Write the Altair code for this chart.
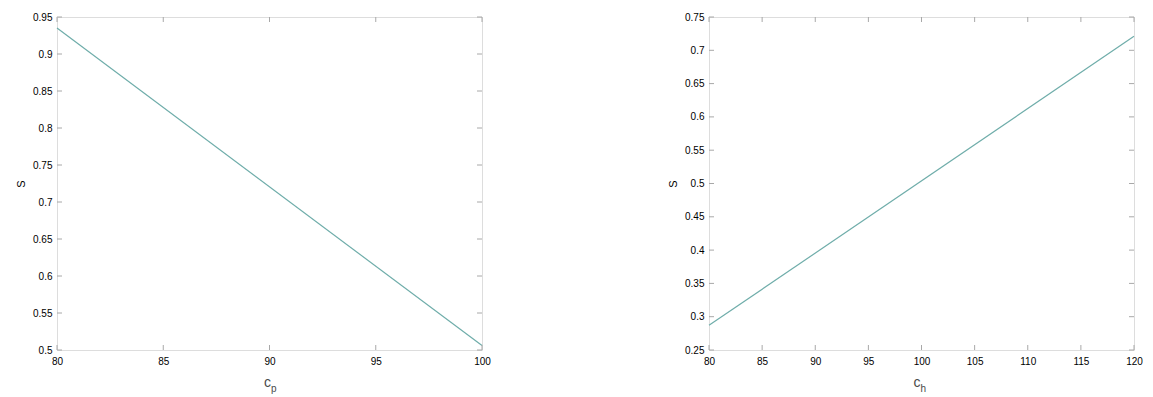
import altair as alt
import pandas as pd

# ---- data ----
cp = [80, 100]
s_cp = [0.935, 0.506]
ch = [80, 120]
s_ch = [0.287, 0.721]

left_xticks = [80, 85, 90, 95, 100]
left_yticks = [0.5, 0.55, 0.6, 0.65, 0.7, 0.75, 0.8, 0.85, 0.9, 0.95]
right_xticks = [80, 85, 90, 95, 100, 105, 110, 115, 120]
right_yticks = [0.25, 0.3, 0.35, 0.4, 0.45, 0.5, 0.55, 0.6, 0.65, 0.7, 0.75]

left_title = ("c", "p")
right_title = ("c", "h")
y_title = "S"

W, H = 425, 333
LINE = "#6fadaa"
AXC = "#a8a8a8"
TXT = "#4a4a4a"
FONT = "Liberation Sans"


def panel(xv, yv, xt, yt, title, c_dx, s_dx):
    df = pd.DataFrame({"x": xv, "y": yv})
    xs = alt.Scale(domain=[xt[0], xt[-1]], nice=False, zero=False)
    ys = alt.Scale(domain=[yt[0], yt[-1]], nice=False, zero=False)
    xax = alt.Axis(values=xt, title=None, ticks=False, tickSize=0,
                   labelPadding=6, domain=False, grid=False,
                   labelFlush=False, format="~r")
    yax = alt.Axis(values=yt, title=y_title, ticks=False, tickSize=0,
                   labelPadding=5, domain=False, grid=False,
                   labelFlush=False, format="~r", titlePadding=6,
                   titleFontWeight="normal")
    line = alt.Chart(df).mark_line(color=LINE, strokeWidth=1.2).encode(
        x=alt.X("x:Q", scale=xs, axis=xax, title=None),
        y=alt.Y("y:Q", scale=ys, axis=yax, title=y_title),
    )
    xdf = pd.DataFrame({"x": xt})
    ydf = pd.DataFrame({"y": yt})
    xb = alt.Chart(xdf).mark_rule(color=AXC).encode(
        x=alt.X("x:Q", scale=xs, axis=xax, title=None), y=alt.value(H), y2=alt.value(H - 5))
    xtop = alt.Chart(xdf).mark_rule(color=AXC).encode(
        x=alt.X("x:Q", scale=xs, axis=xax, title=None), y=alt.value(0), y2=alt.value(5))
    yl = alt.Chart(ydf).mark_rule(color=AXC).encode(
        y=alt.Y("y:Q", scale=ys, axis=yax, title=y_title), x=alt.value(0), x2=alt.value(5))
    yr = alt.Chart(ydf).mark_rule(color=AXC).encode(
        y=alt.Y("y:Q", scale=ys, axis=yax, title=y_title), x=alt.value(W), x2=alt.value(W - 5))
    tdf = pd.DataFrame({"main": [title[0]], "sub": [title[1]]})
    tmain = alt.Chart(tdf).mark_text(align="left", baseline="middle", fontSize=14,
                                     font=FONT, color=TXT).encode(
        x=alt.value(W / 2 + c_dx), y=alt.value(H + 33), text="main:N")
    tsub = alt.Chart(tdf).mark_text(align="left", baseline="middle", fontSize=10,
                                    font=FONT, color=TXT).encode(
        x=alt.value(W / 2 + s_dx), y=alt.value(H + 39), text="sub:N")
    return alt.layer(line, xb, xtop, yl, yr, tmain, tsub).properties(width=W, height=H)


left = panel(cp, s_cp, left_xticks, left_yticks, left_title, -5.5, 1.5)
right = panel(ch, s_ch, right_xticks, right_yticks, right_title, -8, -1.0)

chart = alt.hconcat(left, right, spacing=176).properties(
    padding={"left": 7, "top": 3, "right": 0, "bottom": 0}
).configure_view(
    stroke=AXC, strokeWidth=1
).configure_axis(
    labelFont=FONT, labelFontSize=14, labelColor=TXT,
    titleFont=FONT, titleFontSize=14, titleColor=TXT, titleFontWeight="normal"
).configure(background="white")

chart.save("out.html", embed_options={"renderer": "svg", "actions": False})
